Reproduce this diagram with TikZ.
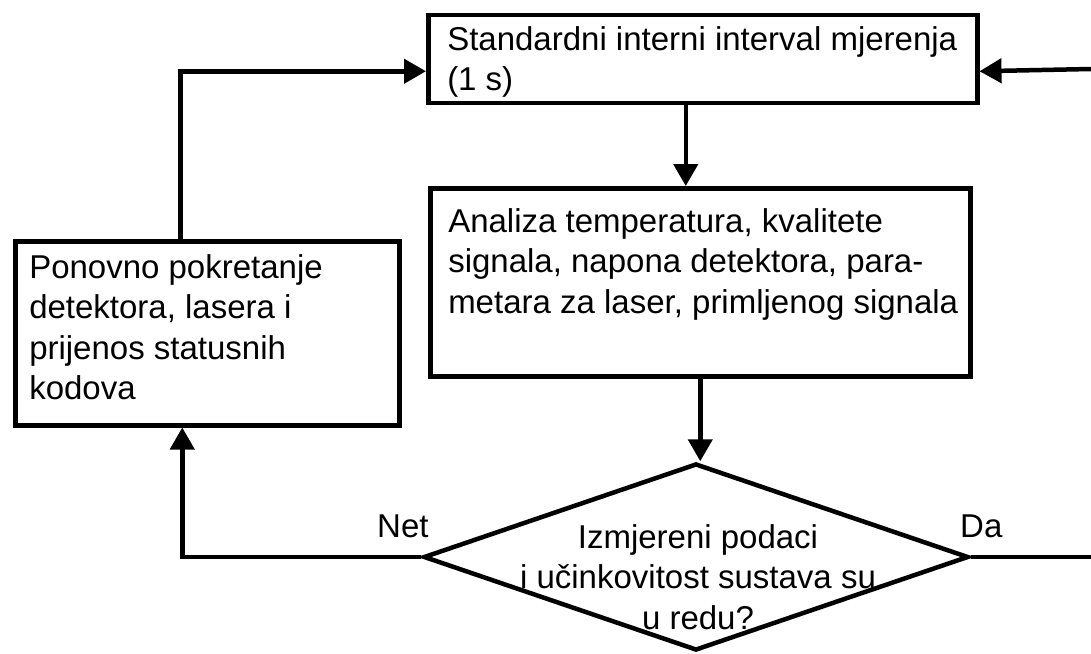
\documentclass[tikz,border=0pt]{standalone}
\usepackage{fontspec}
\setmainfont{Liberation Sans}
\usetikzlibrary{arrows.meta,shapes.geometric}
\newcommand\bxt[5]{\parbox[c][#2][t]{#1}{\leftskip=#3\relax\rightskip=0pt plus 1fil\relax\parfillskip=0pt plus 1fil\relax\parindent=0pt\relax\rule{0pt}{#4}#5}}
\tikzset{
  every node/.style={font=\fontsize{33}{40.5}\selectfont},
  flowbox/.style={draw, line width=4.5pt, inner sep=0pt, anchor=north west},
  decision/.style={draw, diamond, line width=4.5pt, inner sep=0pt, aspect=1},
  conn/.style={line width=4.5pt, line join=miter},
  arr/.style={conn, -{Triangle[length=22pt,width=24pt]}},
  lbl/.style={anchor=base west, inner sep=0pt}
}
\begin{document}
\begin{tikzpicture}[x=1pt,y=-1pt]
\useasboundingbox (0,0) rectangle (1091,653);
\node[flowbox] (top) at (426,12.5) {\bxt{549pt}{88pt}{19pt}{35.5pt}{Standardni interni interval mjerenja\\(1 s)}};
\node[flowbox] (mid) at (428,186) {\bxt{540pt}{188pt}{18pt}{44pt}{Analiza temperatura, kvalitete\\signala, napona detektora, para-\\metara za laser, primljenog signala}};
\node[flowbox] (left) at (13,239) {\bxt{384pt}{184pt}{14pt}{37pt}{Ponovno pokretanje\\detektora, lasera i\\prijenos statusnih\\kodova}};
\node[decision, minimum width=545pt, minimum height=187pt] (dia) at (696,557) {};
\node[align=center, inner sep=0pt] (dq) at (698,577) {Izmjereni podaci\\i učinkovitost sustava su\\u redu?};
\node[lbl] (net) at (377,537) {Net};
\node[lbl] (da) at (960,537) {Da};
\coordinate (rA) at (1091,557);
\coordinate (rB) at (1091,69);
\draw[arr] ([xshift=-17pt]top.south) -- ([xshift=-17pt]top.south |- mid.north);
\draw[arr] (mid.south) -- (mid.south |- dia.north);
\draw[arr] (dia.west) -| ([xshift=-25pt]left.south);
\draw[arr] ([xshift=-27pt]left.north) |- ([yshift=-12.5pt]top.west);
\draw[conn] (dia.east) -- (rA);
\draw[arr] (rB) -- ([yshift=-12.5pt]top.east);
\end{tikzpicture}
\end{document}
